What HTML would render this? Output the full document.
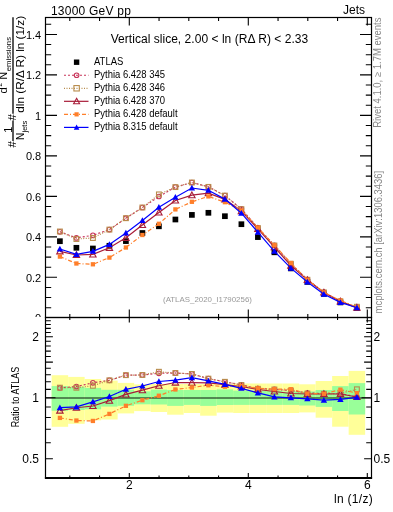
<!DOCTYPE html><html><head><meta charset="utf-8"><style>html,body{margin:0;padding:0;background:#fff;overflow:hidden}svg{display:block;will-change:transform}</style></head><body><svg width="393" height="512" viewBox="0 0 393 512" font-family="Liberation Sans, sans-serif">
<rect width="393" height="512" fill="#fff"/>
<rect x="51.65" y="375.20" width="16.50" height="51.60" fill="#ffff99"/>
<rect x="68.15" y="376.90" width="16.50" height="46.90" fill="#ffff99"/>
<rect x="84.65" y="379.00" width="16.50" height="41.30" fill="#ffff99"/>
<rect x="101.15" y="380.60" width="16.50" height="38.90" fill="#ffff99"/>
<rect x="117.65" y="382.90" width="16.50" height="30.50" fill="#ffff99"/>
<rect x="134.15" y="384.40" width="16.50" height="26.70" fill="#ffff99"/>
<rect x="150.65" y="384.00" width="16.50" height="28.00" fill="#ffff99"/>
<rect x="167.15" y="384.00" width="16.50" height="30.70" fill="#ffff99"/>
<rect x="183.65" y="384.00" width="16.50" height="29.00" fill="#ffff99"/>
<rect x="200.15" y="384.00" width="16.50" height="31.70" fill="#ffff99"/>
<rect x="216.65" y="384.10" width="16.50" height="28.50" fill="#ffff99"/>
<rect x="233.15" y="383.50" width="16.50" height="29.50" fill="#ffff99"/>
<rect x="249.65" y="383.50" width="16.50" height="29.50" fill="#ffff99"/>
<rect x="266.15" y="383.50" width="16.50" height="29.50" fill="#ffff99"/>
<rect x="282.65" y="383.50" width="16.50" height="29.50" fill="#ffff99"/>
<rect x="299.15" y="384.30" width="16.50" height="28.10" fill="#ffff99"/>
<rect x="315.65" y="381.00" width="16.50" height="36.70" fill="#ffff99"/>
<rect x="332.15" y="376.00" width="16.50" height="50.70" fill="#ffff99"/>
<rect x="348.65" y="370.90" width="16.50" height="63.90" fill="#ffff99"/>
<rect x="51.65" y="386.10" width="16.50" height="24.70" fill="#99ff99"/>
<rect x="68.15" y="386.80" width="16.50" height="23.20" fill="#99ff99"/>
<rect x="84.65" y="387.90" width="16.50" height="21.40" fill="#99ff99"/>
<rect x="101.15" y="389.80" width="16.50" height="16.80" fill="#99ff99"/>
<rect x="117.65" y="389.80" width="16.50" height="16.00" fill="#99ff99"/>
<rect x="134.15" y="391.30" width="16.50" height="13.00" fill="#99ff99"/>
<rect x="150.65" y="389.60" width="16.50" height="14.90" fill="#99ff99"/>
<rect x="167.15" y="390.00" width="16.50" height="15.90" fill="#99ff99"/>
<rect x="183.65" y="390.00" width="16.50" height="14.90" fill="#99ff99"/>
<rect x="200.15" y="390.00" width="16.50" height="15.90" fill="#99ff99"/>
<rect x="216.65" y="389.40" width="16.50" height="15.60" fill="#99ff99"/>
<rect x="233.15" y="390.60" width="16.50" height="14.30" fill="#99ff99"/>
<rect x="249.65" y="390.60" width="16.50" height="14.30" fill="#99ff99"/>
<rect x="266.15" y="390.60" width="16.50" height="14.30" fill="#99ff99"/>
<rect x="282.65" y="391.50" width="16.50" height="13.40" fill="#99ff99"/>
<rect x="299.15" y="391.50" width="16.50" height="14.00" fill="#99ff99"/>
<rect x="315.65" y="390.00" width="16.50" height="16.90" fill="#99ff99"/>
<rect x="332.15" y="386.10" width="16.50" height="24.90" fill="#99ff99"/>
<rect x="348.65" y="383.10" width="16.50" height="31.40" fill="#99ff99"/>
<line x1="45.5" y1="397.90" x2="371.5" y2="397.90" stroke="#000" stroke-opacity="0.62" stroke-width="1.5"/>
<g clip-path="url(#clipr)">
<polyline points="59.90,387.96 76.40,386.54 92.90,382.84 109.40,380.31 125.90,375.15 142.40,374.97 158.90,373.28 175.40,373.00 191.90,373.97 208.40,378.58 224.90,381.81 241.40,384.80 257.90,388.60 274.40,389.30 290.90,390.50 307.40,393.00 323.90,393.50 340.40,393.50 356.90,397.00" fill="none" stroke="#c8345a" stroke-width="1.2" stroke-dasharray="2,2"/>
<circle cx="59.90" cy="387.96" r="2.3" fill="none" stroke="#c8345a" stroke-width="1.1"/>
<circle cx="76.40" cy="386.54" r="2.3" fill="none" stroke="#c8345a" stroke-width="1.1"/>
<circle cx="92.90" cy="382.84" r="2.3" fill="none" stroke="#c8345a" stroke-width="1.1"/>
<circle cx="109.40" cy="380.31" r="2.3" fill="none" stroke="#c8345a" stroke-width="1.1"/>
<circle cx="125.90" cy="375.15" r="2.3" fill="none" stroke="#c8345a" stroke-width="1.1"/>
<circle cx="142.40" cy="374.97" r="2.3" fill="none" stroke="#c8345a" stroke-width="1.1"/>
<circle cx="158.90" cy="373.28" r="2.3" fill="none" stroke="#c8345a" stroke-width="1.1"/>
<circle cx="175.40" cy="373.00" r="2.3" fill="none" stroke="#c8345a" stroke-width="1.1"/>
<circle cx="191.90" cy="373.97" r="2.3" fill="none" stroke="#c8345a" stroke-width="1.1"/>
<circle cx="208.40" cy="378.58" r="2.3" fill="none" stroke="#c8345a" stroke-width="1.1"/>
<circle cx="224.90" cy="381.81" r="2.3" fill="none" stroke="#c8345a" stroke-width="1.1"/>
<circle cx="241.40" cy="384.80" r="2.3" fill="none" stroke="#c8345a" stroke-width="1.1"/>
<circle cx="257.90" cy="388.60" r="2.3" fill="none" stroke="#c8345a" stroke-width="1.1"/>
<circle cx="274.40" cy="389.30" r="2.3" fill="none" stroke="#c8345a" stroke-width="1.1"/>
<circle cx="290.90" cy="390.50" r="2.3" fill="none" stroke="#c8345a" stroke-width="1.1"/>
<circle cx="307.40" cy="393.00" r="2.3" fill="none" stroke="#c8345a" stroke-width="1.1"/>
<circle cx="323.90" cy="393.50" r="2.3" fill="none" stroke="#c8345a" stroke-width="1.1"/>
<circle cx="340.40" cy="393.50" r="2.3" fill="none" stroke="#c8345a" stroke-width="1.1"/>
<circle cx="356.90" cy="397.00" r="2.3" fill="none" stroke="#c8345a" stroke-width="1.1"/>
<polyline points="59.90,387.65 76.40,387.76 92.90,385.76 109.40,380.31 125.90,375.15 142.40,374.97 158.90,371.77 175.40,373.00 191.90,373.97 208.40,378.65 224.90,381.81 241.40,385.00 257.90,388.80 274.40,389.50 290.90,390.50 307.40,393.50 323.90,393.80 340.40,393.50 356.90,389.30" fill="none" stroke="#b88c4c" stroke-width="1.2" stroke-dasharray="1,1.5"/>
<rect x="57.50" y="385.25" width="4.8" height="4.8" fill="none" stroke="#b88c4c" stroke-width="1.1"/>
<rect x="74.00" y="385.36" width="4.8" height="4.8" fill="none" stroke="#b88c4c" stroke-width="1.1"/>
<rect x="90.50" y="383.36" width="4.8" height="4.8" fill="none" stroke="#b88c4c" stroke-width="1.1"/>
<rect x="107.00" y="377.91" width="4.8" height="4.8" fill="none" stroke="#b88c4c" stroke-width="1.1"/>
<rect x="123.50" y="372.75" width="4.8" height="4.8" fill="none" stroke="#b88c4c" stroke-width="1.1"/>
<rect x="140.00" y="372.57" width="4.8" height="4.8" fill="none" stroke="#b88c4c" stroke-width="1.1"/>
<rect x="156.50" y="369.37" width="4.8" height="4.8" fill="none" stroke="#b88c4c" stroke-width="1.1"/>
<rect x="173.00" y="370.60" width="4.8" height="4.8" fill="none" stroke="#b88c4c" stroke-width="1.1"/>
<rect x="189.50" y="371.57" width="4.8" height="4.8" fill="none" stroke="#b88c4c" stroke-width="1.1"/>
<rect x="206.00" y="376.25" width="4.8" height="4.8" fill="none" stroke="#b88c4c" stroke-width="1.1"/>
<rect x="222.50" y="379.41" width="4.8" height="4.8" fill="none" stroke="#b88c4c" stroke-width="1.1"/>
<rect x="239.00" y="382.60" width="4.8" height="4.8" fill="none" stroke="#b88c4c" stroke-width="1.1"/>
<rect x="255.50" y="386.40" width="4.8" height="4.8" fill="none" stroke="#b88c4c" stroke-width="1.1"/>
<rect x="272.00" y="387.10" width="4.8" height="4.8" fill="none" stroke="#b88c4c" stroke-width="1.1"/>
<rect x="288.50" y="388.10" width="4.8" height="4.8" fill="none" stroke="#b88c4c" stroke-width="1.1"/>
<rect x="305.00" y="391.10" width="4.8" height="4.8" fill="none" stroke="#b88c4c" stroke-width="1.1"/>
<rect x="321.50" y="391.40" width="4.8" height="4.8" fill="none" stroke="#b88c4c" stroke-width="1.1"/>
<rect x="338.00" y="391.10" width="4.8" height="4.8" fill="none" stroke="#b88c4c" stroke-width="1.1"/>
<rect x="354.50" y="386.90" width="4.8" height="4.8" fill="none" stroke="#b88c4c" stroke-width="1.1"/>
<polyline points="59.90,410.59 76.40,407.73 92.90,406.01 109.40,400.65 125.90,394.44 142.40,390.18 158.90,385.73 175.40,382.52 191.90,382.64 208.40,382.92 224.90,384.59 241.40,386.50 257.90,389.50 274.40,391.50 290.90,393.50 307.40,394.00 323.90,394.00 340.40,394.00 356.90,397.00" fill="none" stroke="#a81c38" stroke-width="1.2"/>
<polygon points="59.90,407.39 63.10,413.15 56.70,413.15" fill="none" stroke="#a81c38" stroke-width="1.1"/>
<polygon points="76.40,404.53 79.60,410.29 73.20,410.29" fill="none" stroke="#a81c38" stroke-width="1.1"/>
<polygon points="92.90,402.81 96.10,408.57 89.70,408.57" fill="none" stroke="#a81c38" stroke-width="1.1"/>
<polygon points="109.40,397.45 112.60,403.21 106.20,403.21" fill="none" stroke="#a81c38" stroke-width="1.1"/>
<polygon points="125.90,391.24 129.10,397.00 122.70,397.00" fill="none" stroke="#a81c38" stroke-width="1.1"/>
<polygon points="142.40,386.98 145.60,392.74 139.20,392.74" fill="none" stroke="#a81c38" stroke-width="1.1"/>
<polygon points="158.90,382.53 162.10,388.29 155.70,388.29" fill="none" stroke="#a81c38" stroke-width="1.1"/>
<polygon points="175.40,379.32 178.60,385.08 172.20,385.08" fill="none" stroke="#a81c38" stroke-width="1.1"/>
<polygon points="191.90,379.44 195.10,385.20 188.70,385.20" fill="none" stroke="#a81c38" stroke-width="1.1"/>
<polygon points="208.40,379.72 211.60,385.48 205.20,385.48" fill="none" stroke="#a81c38" stroke-width="1.1"/>
<polygon points="224.90,381.39 228.10,387.15 221.70,387.15" fill="none" stroke="#a81c38" stroke-width="1.1"/>
<polygon points="241.40,383.30 244.60,389.06 238.20,389.06" fill="none" stroke="#a81c38" stroke-width="1.1"/>
<polygon points="257.90,386.30 261.10,392.06 254.70,392.06" fill="none" stroke="#a81c38" stroke-width="1.1"/>
<polygon points="274.40,388.30 277.60,394.06 271.20,394.06" fill="none" stroke="#a81c38" stroke-width="1.1"/>
<polygon points="290.90,390.30 294.10,396.06 287.70,396.06" fill="none" stroke="#a81c38" stroke-width="1.1"/>
<polygon points="307.40,390.80 310.60,396.56 304.20,396.56" fill="none" stroke="#a81c38" stroke-width="1.1"/>
<polygon points="323.90,390.80 327.10,396.56 320.70,396.56" fill="none" stroke="#a81c38" stroke-width="1.1"/>
<polygon points="340.40,390.80 343.60,396.56 337.20,396.56" fill="none" stroke="#a81c38" stroke-width="1.1"/>
<polygon points="356.90,393.80 360.10,399.56 353.70,399.56" fill="none" stroke="#a81c38" stroke-width="1.1"/>
<polyline points="59.90,417.90 76.40,420.53 92.90,420.95 109.40,413.92 125.90,405.81 142.40,400.21 158.90,395.72 175.40,389.46 191.90,387.51 208.40,385.28 224.90,386.70 241.40,385.98 257.90,388.33 274.40,389.15 290.90,389.20 307.40,393.55 323.90,393.73 340.40,389.67 356.90,393.05" fill="none" stroke="#ff7f2a" stroke-width="1.2" stroke-dasharray="4,2,1,2"/>
<rect x="57.75" y="415.75" width="4.3" height="4.3" fill="#ff7f2a"/>
<rect x="74.25" y="418.38" width="4.3" height="4.3" fill="#ff7f2a"/>
<rect x="90.75" y="418.80" width="4.3" height="4.3" fill="#ff7f2a"/>
<rect x="107.25" y="411.77" width="4.3" height="4.3" fill="#ff7f2a"/>
<rect x="123.75" y="403.66" width="4.3" height="4.3" fill="#ff7f2a"/>
<rect x="140.25" y="398.06" width="4.3" height="4.3" fill="#ff7f2a"/>
<rect x="156.75" y="393.57" width="4.3" height="4.3" fill="#ff7f2a"/>
<rect x="173.25" y="387.31" width="4.3" height="4.3" fill="#ff7f2a"/>
<rect x="189.75" y="385.36" width="4.3" height="4.3" fill="#ff7f2a"/>
<rect x="206.25" y="383.13" width="4.3" height="4.3" fill="#ff7f2a"/>
<rect x="222.75" y="384.55" width="4.3" height="4.3" fill="#ff7f2a"/>
<rect x="239.25" y="383.83" width="4.3" height="4.3" fill="#ff7f2a"/>
<rect x="255.75" y="386.18" width="4.3" height="4.3" fill="#ff7f2a"/>
<rect x="272.25" y="387.00" width="4.3" height="4.3" fill="#ff7f2a"/>
<rect x="288.75" y="387.05" width="4.3" height="4.3" fill="#ff7f2a"/>
<rect x="305.25" y="391.40" width="4.3" height="4.3" fill="#ff7f2a"/>
<rect x="321.75" y="391.58" width="4.3" height="4.3" fill="#ff7f2a"/>
<rect x="338.25" y="387.52" width="4.3" height="4.3" fill="#ff7f2a"/>
<rect x="354.75" y="390.90" width="4.3" height="4.3" fill="#ff7f2a"/>
<polyline points="59.90,407.60 76.40,406.89 92.90,401.81 109.40,396.47 125.90,389.31 142.40,386.01 158.90,381.48 175.40,380.08 191.90,377.62 208.40,380.96 224.90,384.37 241.40,388.30 257.90,392.94 274.40,396.87 290.90,397.80 307.40,398.80 323.90,400.20 340.40,399.40 356.90,397.30" fill="none" stroke="#0000ff" stroke-width="1.2"/>
<polygon points="59.90,404.40 63.10,410.16 56.70,410.16" fill="#0000ff"/>
<polygon points="76.40,403.69 79.60,409.45 73.20,409.45" fill="#0000ff"/>
<polygon points="92.90,398.61 96.10,404.37 89.70,404.37" fill="#0000ff"/>
<polygon points="109.40,393.27 112.60,399.03 106.20,399.03" fill="#0000ff"/>
<polygon points="125.90,386.11 129.10,391.87 122.70,391.87" fill="#0000ff"/>
<polygon points="142.40,382.81 145.60,388.57 139.20,388.57" fill="#0000ff"/>
<polygon points="158.90,378.28 162.10,384.04 155.70,384.04" fill="#0000ff"/>
<polygon points="175.40,376.88 178.60,382.64 172.20,382.64" fill="#0000ff"/>
<polygon points="191.90,374.42 195.10,380.18 188.70,380.18" fill="#0000ff"/>
<polygon points="208.40,377.76 211.60,383.52 205.20,383.52" fill="#0000ff"/>
<polygon points="224.90,381.17 228.10,386.93 221.70,386.93" fill="#0000ff"/>
<polygon points="241.40,385.10 244.60,390.86 238.20,390.86" fill="#0000ff"/>
<polygon points="257.90,389.74 261.10,395.50 254.70,395.50" fill="#0000ff"/>
<polygon points="274.40,393.67 277.60,399.43 271.20,399.43" fill="#0000ff"/>
<polygon points="290.90,394.60 294.10,400.36 287.70,400.36" fill="#0000ff"/>
<polygon points="307.40,395.60 310.60,401.36 304.20,401.36" fill="#0000ff"/>
<polygon points="323.90,397.00 327.10,402.76 320.70,402.76" fill="#0000ff"/>
<polygon points="340.40,396.20 343.60,401.96 337.20,401.96" fill="#0000ff"/>
<polygon points="356.90,394.10 360.10,399.86 353.70,399.86" fill="#0000ff"/>
</g>
<rect x="57.05" y="238.35" width="5.7" height="5.7" fill="#000"/>
<rect x="73.55" y="244.95" width="5.7" height="5.7" fill="#000"/>
<rect x="90.05" y="245.65" width="5.7" height="5.7" fill="#000"/>
<rect x="106.55" y="242.95" width="5.7" height="5.7" fill="#000"/>
<rect x="123.05" y="238.25" width="5.7" height="5.7" fill="#000"/>
<rect x="139.55" y="230.15" width="5.7" height="5.7" fill="#000"/>
<rect x="156.05" y="223.45" width="5.7" height="5.7" fill="#000"/>
<rect x="172.55" y="216.65" width="5.7" height="5.7" fill="#000"/>
<rect x="189.05" y="212.05" width="5.7" height="5.7" fill="#000"/>
<rect x="205.55" y="209.95" width="5.7" height="5.7" fill="#000"/>
<rect x="222.05" y="213.35" width="5.7" height="5.7" fill="#000"/>
<rect x="238.55" y="221.35" width="5.7" height="5.7" fill="#000"/>
<rect x="255.05" y="234.25" width="5.7" height="5.7" fill="#000"/>
<rect x="271.55" y="249.45" width="5.7" height="5.7" fill="#000"/>
<rect x="288.05" y="265.55" width="5.7" height="5.7" fill="#000"/>
<rect x="304.55" y="279.04" width="5.7" height="5.7" fill="#000"/>
<rect x="321.05" y="291.00" width="5.7" height="5.7" fill="#000"/>
<rect x="337.55" y="299.57" width="5.7" height="5.7" fill="#000"/>
<rect x="354.05" y="305.21" width="5.7" height="5.7" fill="#000"/>
<polyline points="59.90,231.80 76.40,237.90 92.90,235.30 109.40,229.60 125.90,218.20 142.40,207.50 158.90,196.50 175.40,187.10 191.90,182.50 208.40,186.80 224.90,195.60 241.40,208.95 257.90,227.87 274.40,245.33 290.90,263.80 307.40,279.56 323.90,292.33 340.40,301.33 356.90,307.67" fill="none" stroke="#c8345a" stroke-width="1.2" stroke-dasharray="2,2"/>
<circle cx="59.90" cy="231.80" r="2.3" fill="none" stroke="#c8345a" stroke-width="1.1"/>
<circle cx="76.40" cy="237.90" r="2.3" fill="none" stroke="#c8345a" stroke-width="1.1"/>
<circle cx="92.90" cy="235.30" r="2.3" fill="none" stroke="#c8345a" stroke-width="1.1"/>
<circle cx="109.40" cy="229.60" r="2.3" fill="none" stroke="#c8345a" stroke-width="1.1"/>
<circle cx="125.90" cy="218.20" r="2.3" fill="none" stroke="#c8345a" stroke-width="1.1"/>
<circle cx="142.40" cy="207.50" r="2.3" fill="none" stroke="#c8345a" stroke-width="1.1"/>
<circle cx="158.90" cy="196.50" r="2.3" fill="none" stroke="#c8345a" stroke-width="1.1"/>
<circle cx="175.40" cy="187.10" r="2.3" fill="none" stroke="#c8345a" stroke-width="1.1"/>
<circle cx="191.90" cy="182.50" r="2.3" fill="none" stroke="#c8345a" stroke-width="1.1"/>
<circle cx="208.40" cy="186.80" r="2.3" fill="none" stroke="#c8345a" stroke-width="1.1"/>
<circle cx="224.90" cy="195.60" r="2.3" fill="none" stroke="#c8345a" stroke-width="1.1"/>
<circle cx="241.40" cy="208.95" r="2.3" fill="none" stroke="#c8345a" stroke-width="1.1"/>
<circle cx="257.90" cy="227.87" r="2.3" fill="none" stroke="#c8345a" stroke-width="1.1"/>
<circle cx="274.40" cy="245.33" r="2.3" fill="none" stroke="#c8345a" stroke-width="1.1"/>
<circle cx="290.90" cy="263.80" r="2.3" fill="none" stroke="#c8345a" stroke-width="1.1"/>
<circle cx="307.40" cy="279.56" r="2.3" fill="none" stroke="#c8345a" stroke-width="1.1"/>
<circle cx="323.90" cy="292.33" r="2.3" fill="none" stroke="#c8345a" stroke-width="1.1"/>
<circle cx="340.40" cy="301.33" r="2.3" fill="none" stroke="#c8345a" stroke-width="1.1"/>
<circle cx="356.90" cy="307.67" r="2.3" fill="none" stroke="#c8345a" stroke-width="1.1"/>
<polyline points="59.90,231.50 76.40,239.00 92.90,238.00 109.40,229.60 125.90,218.20 142.40,207.50 158.90,194.40 175.40,187.10 191.90,182.50 208.40,186.90 224.90,195.60 241.40,209.20 257.90,228.08 274.40,245.49 290.90,263.80 307.40,279.78 323.90,292.42 340.40,301.33 356.90,306.74" fill="none" stroke="#b88c4c" stroke-width="1.2" stroke-dasharray="1,1.5"/>
<rect x="57.50" y="229.10" width="4.8" height="4.8" fill="none" stroke="#b88c4c" stroke-width="1.1"/>
<rect x="74.00" y="236.60" width="4.8" height="4.8" fill="none" stroke="#b88c4c" stroke-width="1.1"/>
<rect x="90.50" y="235.60" width="4.8" height="4.8" fill="none" stroke="#b88c4c" stroke-width="1.1"/>
<rect x="107.00" y="227.20" width="4.8" height="4.8" fill="none" stroke="#b88c4c" stroke-width="1.1"/>
<rect x="123.50" y="215.80" width="4.8" height="4.8" fill="none" stroke="#b88c4c" stroke-width="1.1"/>
<rect x="140.00" y="205.10" width="4.8" height="4.8" fill="none" stroke="#b88c4c" stroke-width="1.1"/>
<rect x="156.50" y="192.00" width="4.8" height="4.8" fill="none" stroke="#b88c4c" stroke-width="1.1"/>
<rect x="173.00" y="184.70" width="4.8" height="4.8" fill="none" stroke="#b88c4c" stroke-width="1.1"/>
<rect x="189.50" y="180.10" width="4.8" height="4.8" fill="none" stroke="#b88c4c" stroke-width="1.1"/>
<rect x="206.00" y="184.50" width="4.8" height="4.8" fill="none" stroke="#b88c4c" stroke-width="1.1"/>
<rect x="222.50" y="193.20" width="4.8" height="4.8" fill="none" stroke="#b88c4c" stroke-width="1.1"/>
<rect x="239.00" y="206.80" width="4.8" height="4.8" fill="none" stroke="#b88c4c" stroke-width="1.1"/>
<rect x="255.50" y="225.68" width="4.8" height="4.8" fill="none" stroke="#b88c4c" stroke-width="1.1"/>
<rect x="272.00" y="243.09" width="4.8" height="4.8" fill="none" stroke="#b88c4c" stroke-width="1.1"/>
<rect x="288.50" y="261.40" width="4.8" height="4.8" fill="none" stroke="#b88c4c" stroke-width="1.1"/>
<rect x="305.00" y="277.38" width="4.8" height="4.8" fill="none" stroke="#b88c4c" stroke-width="1.1"/>
<rect x="321.50" y="290.02" width="4.8" height="4.8" fill="none" stroke="#b88c4c" stroke-width="1.1"/>
<rect x="338.00" y="298.93" width="4.8" height="4.8" fill="none" stroke="#b88c4c" stroke-width="1.1"/>
<rect x="354.50" y="304.34" width="4.8" height="4.8" fill="none" stroke="#b88c4c" stroke-width="1.1"/>
<polyline points="59.90,251.30 76.40,255.00 92.90,254.40 109.40,247.80 125.90,237.80 142.40,225.00 158.90,212.50 175.40,200.50 191.90,195.20 208.40,193.10 224.90,199.40 241.40,211.03 257.90,228.79 274.40,247.12 290.90,265.61 307.40,279.99 323.90,292.48 340.40,301.43 356.90,307.67" fill="none" stroke="#a81c38" stroke-width="1.2"/>
<polygon points="59.90,248.10 63.10,253.86 56.70,253.86" fill="none" stroke="#a81c38" stroke-width="1.1"/>
<polygon points="76.40,251.80 79.60,257.56 73.20,257.56" fill="none" stroke="#a81c38" stroke-width="1.1"/>
<polygon points="92.90,251.20 96.10,256.96 89.70,256.96" fill="none" stroke="#a81c38" stroke-width="1.1"/>
<polygon points="109.40,244.60 112.60,250.36 106.20,250.36" fill="none" stroke="#a81c38" stroke-width="1.1"/>
<polygon points="125.90,234.60 129.10,240.36 122.70,240.36" fill="none" stroke="#a81c38" stroke-width="1.1"/>
<polygon points="142.40,221.80 145.60,227.56 139.20,227.56" fill="none" stroke="#a81c38" stroke-width="1.1"/>
<polygon points="158.90,209.30 162.10,215.06 155.70,215.06" fill="none" stroke="#a81c38" stroke-width="1.1"/>
<polygon points="175.40,197.30 178.60,203.06 172.20,203.06" fill="none" stroke="#a81c38" stroke-width="1.1"/>
<polygon points="191.90,192.00 195.10,197.76 188.70,197.76" fill="none" stroke="#a81c38" stroke-width="1.1"/>
<polygon points="208.40,189.90 211.60,195.66 205.20,195.66" fill="none" stroke="#a81c38" stroke-width="1.1"/>
<polygon points="224.90,196.20 228.10,201.96 221.70,201.96" fill="none" stroke="#a81c38" stroke-width="1.1"/>
<polygon points="241.40,207.83 244.60,213.59 238.20,213.59" fill="none" stroke="#a81c38" stroke-width="1.1"/>
<polygon points="257.90,225.59 261.10,231.35 254.70,231.35" fill="none" stroke="#a81c38" stroke-width="1.1"/>
<polygon points="274.40,243.92 277.60,249.68 271.20,249.68" fill="none" stroke="#a81c38" stroke-width="1.1"/>
<polygon points="290.90,262.41 294.10,268.17 287.70,268.17" fill="none" stroke="#a81c38" stroke-width="1.1"/>
<polygon points="307.40,276.79 310.60,282.55 304.20,282.55" fill="none" stroke="#a81c38" stroke-width="1.1"/>
<polygon points="323.90,289.28 327.10,295.04 320.70,295.04" fill="none" stroke="#a81c38" stroke-width="1.1"/>
<polygon points="340.40,298.23 343.60,303.99 337.20,303.99" fill="none" stroke="#a81c38" stroke-width="1.1"/>
<polygon points="356.90,304.47 360.10,310.23 353.70,310.23" fill="none" stroke="#a81c38" stroke-width="1.1"/>
<polyline points="59.90,256.60 76.40,263.50 92.90,264.30 109.40,257.60 125.90,247.50 142.40,235.00 158.90,223.80 175.40,209.40 191.90,201.80 208.40,196.40 224.90,202.20 241.40,210.40 257.90,227.60 274.40,245.20 290.90,263.00 307.40,279.80 323.90,292.40 340.40,300.60 356.90,307.20" fill="none" stroke="#ff7f2a" stroke-width="1.2" stroke-dasharray="4,2,1,2"/>
<rect x="57.75" y="254.45" width="4.3" height="4.3" fill="#ff7f2a"/>
<rect x="74.25" y="261.35" width="4.3" height="4.3" fill="#ff7f2a"/>
<rect x="90.75" y="262.15" width="4.3" height="4.3" fill="#ff7f2a"/>
<rect x="107.25" y="255.45" width="4.3" height="4.3" fill="#ff7f2a"/>
<rect x="123.75" y="245.35" width="4.3" height="4.3" fill="#ff7f2a"/>
<rect x="140.25" y="232.85" width="4.3" height="4.3" fill="#ff7f2a"/>
<rect x="156.75" y="221.65" width="4.3" height="4.3" fill="#ff7f2a"/>
<rect x="173.25" y="207.25" width="4.3" height="4.3" fill="#ff7f2a"/>
<rect x="189.75" y="199.65" width="4.3" height="4.3" fill="#ff7f2a"/>
<rect x="206.25" y="194.25" width="4.3" height="4.3" fill="#ff7f2a"/>
<rect x="222.75" y="200.05" width="4.3" height="4.3" fill="#ff7f2a"/>
<rect x="239.25" y="208.25" width="4.3" height="4.3" fill="#ff7f2a"/>
<rect x="255.75" y="225.45" width="4.3" height="4.3" fill="#ff7f2a"/>
<rect x="272.25" y="243.05" width="4.3" height="4.3" fill="#ff7f2a"/>
<rect x="288.75" y="260.85" width="4.3" height="4.3" fill="#ff7f2a"/>
<rect x="305.25" y="277.65" width="4.3" height="4.3" fill="#ff7f2a"/>
<rect x="321.75" y="290.25" width="4.3" height="4.3" fill="#ff7f2a"/>
<rect x="338.25" y="298.45" width="4.3" height="4.3" fill="#ff7f2a"/>
<rect x="354.75" y="305.05" width="4.3" height="4.3" fill="#ff7f2a"/>
<polyline points="59.90,249.00 76.40,254.40 92.90,251.30 109.40,244.40 125.90,233.00 142.40,220.50 158.90,207.30 175.40,197.20 191.90,188.00 208.40,190.30 224.90,199.10 241.40,213.20 257.90,232.20 274.40,251.30 290.90,268.10 307.40,282.00 323.90,294.20 340.40,302.40 356.90,307.70" fill="none" stroke="#0000ff" stroke-width="1.2"/>
<polygon points="59.90,245.80 63.10,251.56 56.70,251.56" fill="#0000ff"/>
<polygon points="76.40,251.20 79.60,256.96 73.20,256.96" fill="#0000ff"/>
<polygon points="92.90,248.10 96.10,253.86 89.70,253.86" fill="#0000ff"/>
<polygon points="109.40,241.20 112.60,246.96 106.20,246.96" fill="#0000ff"/>
<polygon points="125.90,229.80 129.10,235.56 122.70,235.56" fill="#0000ff"/>
<polygon points="142.40,217.30 145.60,223.06 139.20,223.06" fill="#0000ff"/>
<polygon points="158.90,204.10 162.10,209.86 155.70,209.86" fill="#0000ff"/>
<polygon points="175.40,194.00 178.60,199.76 172.20,199.76" fill="#0000ff"/>
<polygon points="191.90,184.80 195.10,190.56 188.70,190.56" fill="#0000ff"/>
<polygon points="208.40,187.10 211.60,192.86 205.20,192.86" fill="#0000ff"/>
<polygon points="224.90,195.90 228.10,201.66 221.70,201.66" fill="#0000ff"/>
<polygon points="241.40,210.00 244.60,215.76 238.20,215.76" fill="#0000ff"/>
<polygon points="257.90,229.00 261.10,234.76 254.70,234.76" fill="#0000ff"/>
<polygon points="274.40,248.10 277.60,253.86 271.20,253.86" fill="#0000ff"/>
<polygon points="290.90,264.90 294.10,270.66 287.70,270.66" fill="#0000ff"/>
<polygon points="307.40,278.80 310.60,284.56 304.20,284.56" fill="#0000ff"/>
<polygon points="323.90,291.00 327.10,296.76 320.70,296.76" fill="#0000ff"/>
<polygon points="340.40,299.20 343.60,304.96 337.20,304.96" fill="#0000ff"/>
<polygon points="356.90,304.50 360.10,310.26 353.70,310.26" fill="#0000ff"/>
<defs><clipPath id="clipr"><rect x="45.5" y="317.5" width="326.0" height="160.5"/></clipPath></defs>
<rect x="45.5" y="17.5" width="326.0" height="300.0" fill="none" stroke="#000" stroke-width="1.2"/>
<rect x="45.5" y="317.5" width="326.0" height="160.5" fill="none" stroke="#000" stroke-width="1.2"/>
<line x1="44.9" y1="478.0" x2="372.1" y2="478.0" stroke="#000" stroke-width="1.8"/>
<path d="M45.5,307.68h5.7M371.5,307.68h-5.7M45.5,297.56h5.7M371.5,297.56h-5.7M45.5,287.44h5.7M371.5,287.44h-5.7M45.5,277.32h11.5M371.5,277.32h-11.5M45.5,267.20h5.7M371.5,267.20h-5.7M45.5,257.08h5.7M371.5,257.08h-5.7M45.5,246.96h5.7M371.5,246.96h-5.7M45.5,236.84h11.5M371.5,236.84h-11.5M45.5,226.72h5.7M371.5,226.72h-5.7M45.5,216.60h5.7M371.5,216.60h-5.7M45.5,206.48h5.7M371.5,206.48h-5.7M45.5,196.36h11.5M371.5,196.36h-11.5M45.5,186.24h5.7M371.5,186.24h-5.7M45.5,176.12h5.7M371.5,176.12h-5.7M45.5,166.00h5.7M371.5,166.00h-5.7M45.5,155.88h11.5M371.5,155.88h-11.5M45.5,145.76h5.7M371.5,145.76h-5.7M45.5,135.64h5.7M371.5,135.64h-5.7M45.5,125.52h5.7M371.5,125.52h-5.7M45.5,115.40h11.5M371.5,115.40h-11.5M45.5,105.28h5.7M371.5,105.28h-5.7M45.5,95.16h5.7M371.5,95.16h-5.7M45.5,85.04h5.7M371.5,85.04h-5.7M45.5,74.92h11.5M371.5,74.92h-11.5M45.5,64.80h5.7M371.5,64.80h-5.7M45.5,54.68h5.7M371.5,54.68h-5.7M45.5,44.56h5.7M371.5,44.56h-5.7M45.5,34.44h11.5M371.5,34.44h-11.5M45.5,24.32h5.7M371.5,24.32h-5.7M69.80,17.5v3.5M69.80,317.5v-3.5M69.80,317.5v2.5M69.80,478.0v-2.5M99.55,17.5v3.5M99.55,317.5v-3.5M99.55,317.5v2.5M99.55,478.0v-2.5M129.30,17.5v8M129.30,317.5v-8M129.30,317.5v5M129.30,478.0v-5M159.05,17.5v3.5M159.05,317.5v-3.5M159.05,317.5v2.5M159.05,478.0v-2.5M188.80,17.5v3.5M188.80,317.5v-3.5M188.80,317.5v2.5M188.80,478.0v-2.5M218.55,17.5v3.5M218.55,317.5v-3.5M218.55,317.5v2.5M218.55,478.0v-2.5M248.30,17.5v8M248.30,317.5v-8M248.30,317.5v5M248.30,478.0v-5M278.05,17.5v3.5M278.05,317.5v-3.5M278.05,317.5v2.5M278.05,478.0v-2.5M307.80,17.5v3.5M307.80,317.5v-3.5M307.80,317.5v2.5M307.80,478.0v-2.5M337.55,17.5v3.5M337.55,317.5v-3.5M337.55,317.5v2.5M337.55,478.0v-2.5M367.30,17.5v8M367.30,317.5v-8M367.30,317.5v5M367.30,478.0v-5M45.5,458.80h7.4M371.5,458.80h-7.4M45.5,442.75h5.3M371.5,442.75h-5.3M45.5,429.19h5.3M371.5,429.19h-5.3M45.5,417.44h5.3M371.5,417.44h-5.3M45.5,407.07h5.3M371.5,407.07h-5.3M45.5,397.80h10M371.5,397.80h-10M45.5,389.41h5.3M371.5,389.41h-5.3M45.5,381.75h5.3M371.5,381.75h-5.3M45.5,374.71h5.3M371.5,374.71h-5.3M45.5,368.19h5.3M371.5,368.19h-5.3M45.5,362.12h7.4M371.5,362.12h-7.4M45.5,356.44h5.3M371.5,356.44h-5.3M45.5,351.10h5.3M371.5,351.10h-5.3M45.5,346.07h5.3M371.5,346.07h-5.3M45.5,341.31h5.3M371.5,341.31h-5.3M45.5,336.80h7.4M371.5,336.80h-7.4M45.5,332.51h5.3M371.5,332.51h-5.3M45.5,328.41h5.3M371.5,328.41h-5.3M45.5,324.50h5.3M371.5,324.50h-5.3M45.5,320.75h5.3M371.5,320.75h-5.3" stroke="#000" stroke-width="1.1" fill="none"/>
<text x="41.2" y="281.72" font-size="11" text-anchor="end">0.2</text>
<text x="41.2" y="241.24" font-size="11" text-anchor="end">0.4</text>
<text x="41.2" y="200.76" font-size="11" text-anchor="end">0.6</text>
<text x="41.2" y="160.28" font-size="11" text-anchor="end">0.8</text>
<text x="41.2" y="119.80" font-size="11" text-anchor="end">1</text>
<text x="41.2" y="79.32" font-size="11" text-anchor="end">1.2</text>
<text x="41.2" y="38.84" font-size="11" text-anchor="end">1.4</text>
<text x="41.2" y="322.20" font-size="11" text-anchor="end" clip-path="url(#clip0)">0</text>
<defs><clipPath id="clip0"><rect x="0" y="0" width="45" height="316.9"/></clipPath></defs>
<text x="38.9" y="341.10" font-size="12" text-anchor="end">2</text>
<text x="373.6" y="341.10" font-size="12">2</text>
<text x="38.9" y="402.10" font-size="12" text-anchor="end">1</text>
<text x="373.6" y="402.10" font-size="12">1</text>
<text x="38.9" y="463.10" font-size="12" text-anchor="end">0.5</text>
<text x="373.6" y="463.10" font-size="12">0.5</text>
<text x="129.30" y="488.7" font-size="12" text-anchor="middle">2</text>
<text x="248.30" y="488.7" font-size="12" text-anchor="middle">4</text>
<text x="367.30" y="488.7" font-size="12" text-anchor="middle">6</text>
<text x="333.9" y="503.2" font-size="12" textLength="38.9" lengthAdjust="spacing">ln (1/z)</text>
<text x="50.9" y="14.5" font-size="12" textLength="80" lengthAdjust="spacing">13000 GeV pp</text>
<text x="365" y="13.7" font-size="12" text-anchor="end">Jets</text>
<text x="110.7" y="43.2" font-size="12" textLength="197.5" lengthAdjust="spacing">Vertical slice, 2.00 &lt; ln (RΔ R) &lt; 2.33</text>
<text x="94.0" y="64.90" font-size="10" textLength="29.24" lengthAdjust="spacingAndGlyphs">ATLAS</text>
<text x="94.0" y="77.94" font-size="10" textLength="70.93" lengthAdjust="spacingAndGlyphs">Pythia 6.428 345</text>
<text x="94.0" y="90.98" font-size="10" textLength="70.93" lengthAdjust="spacingAndGlyphs">Pythia 6.428 346</text>
<text x="94.0" y="104.02" font-size="10" textLength="70.93" lengthAdjust="spacingAndGlyphs">Pythia 6.428 370</text>
<text x="94.0" y="117.06" font-size="10" textLength="83.53" lengthAdjust="spacingAndGlyphs">Pythia 6.428 default</text>
<text x="94.0" y="130.10" font-size="10" textLength="83.53" lengthAdjust="spacingAndGlyphs">Pythia 8.315 default</text>
<rect x="73.90" y="59.50" width="5.4" height="5.4" fill="#000"/>
<polyline points="64.00,75.24 88.50,75.24" fill="none" stroke="#c8345a" stroke-width="1.2" stroke-dasharray="2,2"/>
<circle cx="76.60" cy="75.24" r="2.3" fill="none" stroke="#c8345a" stroke-width="1.1"/>
<polyline points="64.00,88.28 88.50,88.28" fill="none" stroke="#b88c4c" stroke-width="1.2" stroke-dasharray="1,1.5"/>
<rect x="73.90" y="85.58" width="5.4" height="5.4" fill="none" stroke="#b88c4c" stroke-width="1.1"/>
<polyline points="64.00,101.32 88.50,101.32" fill="none" stroke="#a81c38" stroke-width="1.2"/>
<polygon points="76.60,98.32 79.60,103.72 73.60,103.72" fill="none" stroke="#a81c38" stroke-width="1.1"/>
<polyline points="64.00,114.36 88.50,114.36" fill="none" stroke="#ff7f2a" stroke-width="1.2" stroke-dasharray="4,2,1,2"/>
<rect x="74.50" y="112.26" width="4.2" height="4.2" fill="#ff7f2a"/>
<polyline points="64.00,127.40 88.50,127.40" fill="none" stroke="#0000ff" stroke-width="1.2"/>
<polygon points="76.60,124.60 79.40,129.64 73.80,129.64" fill="#0000ff"/>
<text x="163" y="302.3" font-size="7.9" fill="#999">(ATLAS_2020_I1790256)</text>
<text transform="translate(380.5,127.8) rotate(-90)" font-size="10" textLength="110.3" lengthAdjust="spacingAndGlyphs" fill="#888">Rivet 4.1.0, ≥ 1.7M events</text>
<text transform="translate(381.7,313.4) rotate(-90)" font-size="10.5" textLength="142.5" lengthAdjust="spacingAndGlyphs" fill="#888">mcplots.cern.ch [arXiv:1306.3436]</text>
<text transform="translate(19.4,397.1) rotate(-90)" font-size="10.5" text-anchor="middle" textLength="60.5" lengthAdjust="spacingAndGlyphs">Ratio to ATLAS</text>
<path d="M13,17.3V113.8M13,120.4V141" stroke="#000" stroke-width="1.3"/>
<text transform="translate(23.9,112.8) rotate(-90)" font-size="11.5" textLength="97" lengthAdjust="spacingAndGlyphs">dln (R/Δ R) ln (1/z)</text>
<text transform="translate(7.4,93.4) rotate(-90)" font-size="11.5">d</text>
<text transform="translate(2.2,86.6) rotate(-90)" font-size="6.5">2</text>
<text transform="translate(7.3,79.6) rotate(-90)" font-size="10.5">N</text>
<text transform="translate(11.4,71.2) rotate(-90)" font-size="7.7">emissions</text>
<text transform="translate(16.0,120.6) rotate(-90)" font-size="11.5">#</text>
<text transform="translate(16.0,147.5) rotate(-90)" font-size="11.5">#</text>
<text transform="translate(11.6,132.8) rotate(-90)" font-size="11">1</text>
<text transform="translate(23.7,140) rotate(-90)" font-size="10">N</text>
<text transform="translate(27.4,132.5) rotate(-90)" font-size="7.5">jets</text>
</svg></body></html>
